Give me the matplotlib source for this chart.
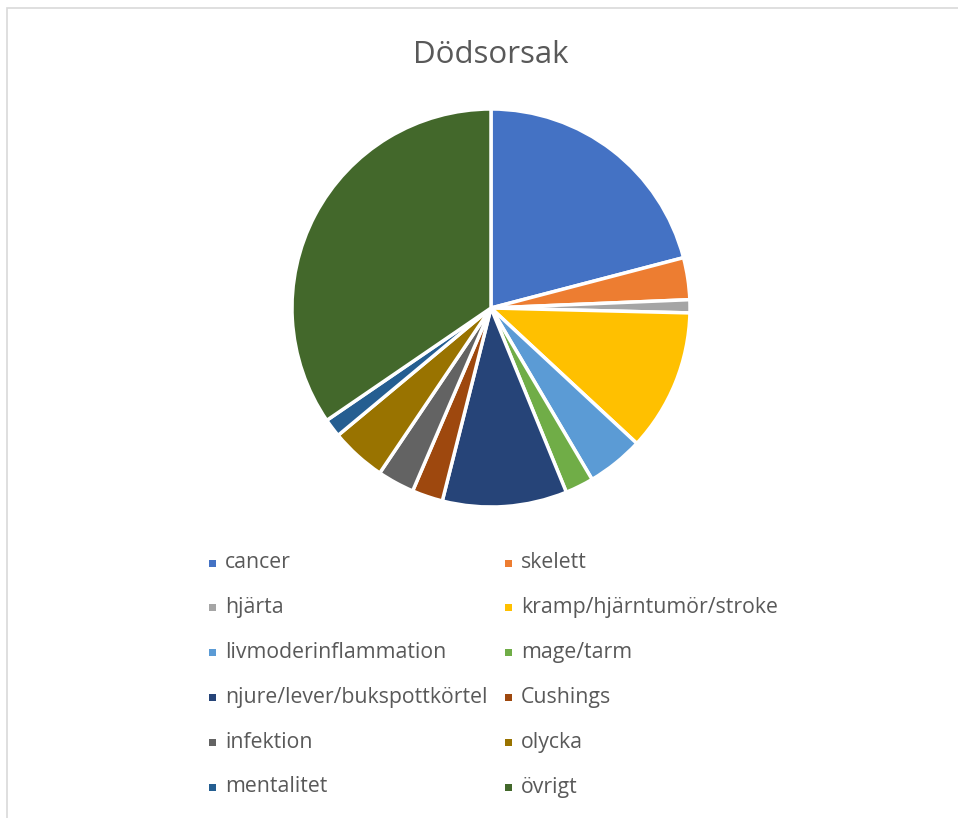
import matplotlib
matplotlib.use("Agg")
import matplotlib.pyplot as plt
from matplotlib.patches import Rectangle

categories = ["cancer", "skelett", "hjärta", "kramp/hjärntumör/stroke",
              "livmoderinflammation", "mage/tarm", "njure/lever/bukspottkörtel",
              "Cushings", "infektion", "olycka", "mentalitet", "övrigt"]
values = [20.9, 3.4, 1.06, 11.5, 4.6, 2.3, 10.1, 2.5, 3.0, 4.5, 1.5, 34.5]
colors = ["#4472C4", "#ED7D31", "#A5A5A5", "#FFC000", "#5B9BD5", "#70AD47",
          "#264478", "#9E480E", "#636363", "#997300", "#255E91", "#43682B"]
title = "Dödsorsak"

W, H = 958, 818
fig = plt.figure(figsize=(W / 100, H / 100), dpi=100)
fig.patch.set_facecolor("white")

# chart border
border = Rectangle((7 / W, -0.01), 1.2, (H - 8) / H + 0.01, transform=fig.transFigure,
                   fill=False, edgecolor="#D9D9D9", linewidth=1.2)
fig.add_artist(border)

cx, cy, r = 491, 308, 199
ax = fig.add_axes([(cx - r) / W, (H - cy - r) / H, 2 * r / W, 2 * r / H])
wedges, _ = ax.pie(values, colors=colors, startangle=90, counterclock=False,
                   wedgeprops=dict(edgecolor="white", linewidth=2.5, joinstyle="miter"),
                   radius=1.0)
for w in wedges:
    w.set_clip_on(False)
ax.set_xlim(-1.0, 1.0)
ax.set_ylim(-1.0, 1.0)
ax.set_aspect("equal")
ax.axis("off")

fig.text(491 / W, 1 - 55 / H, title, ha="center", va="center",
         fontsize=22.5, color="#595959", family=["Open Sans", "DejaVu Sans"])

# legend, row-wise two columns
col_x = [209, 505]
row_y0, row_dy = 563, 44.8
for i, (lab, col) in enumerate(zip(categories, colors)):
    c = i % 2
    rrow = i // 2
    x = col_x[c]
    y = row_y0 + rrow * row_dy
    fig.add_artist(Rectangle((x / W, 1 - (y + 3.5) / H), 7 / W, 7 / H,
                             transform=fig.transFigure, facecolor=col,
                             edgecolor="none"))
    fig.text((x + 16) / W, 1 - y / H, lab, ha="left", va="center",
             fontsize=15.3, color="#595959", family=["Open Sans", "DejaVu Sans"])

fig.savefig("out.png", dpi=100, facecolor="white")
